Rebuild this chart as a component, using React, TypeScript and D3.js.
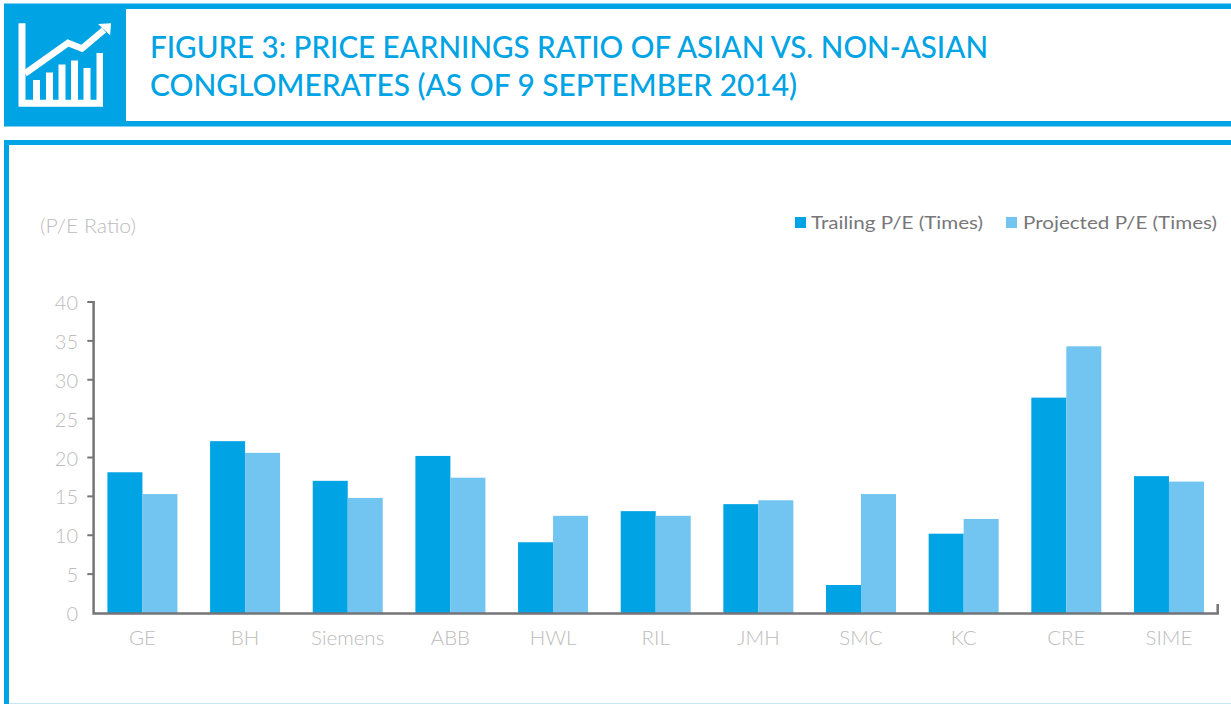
import React from "react";
import * as d3 from "d3";

const categories = ["GE", "BH", "Siemens", "ABB", "HWL", "RIL", "JMH", "SMC", "KC", "CRE", "SIME"];
const trailing = [18.1, 22.1, 17.0, 20.2, 9.1, 13.1, 14.0, 3.6, 10.2, 27.7, 17.6];
const projected = [15.3, 20.6, 14.8, 17.4, 12.5, 12.5, 14.5, 15.3, 12.1, 34.3, 16.9];
const yTicks = [0, 5, 10, 15, 20, 25, 30, 35, 40];

const BLUE = "#00a3e4";
const LIGHT = "#72c5f0";
const AXIS = "#757578";
const TICK = "#bcbcbc";
const FONT = "'Lato', 'Noto Sans', sans-serif";

const x = d3.scaleBand<string>().domain(categories).range([91.1, 1220.3]).paddingInner(0).paddingOuter(0);
const y = d3.scaleLinear().domain([0, 40]).range([613, 302]);
const barW = 35;

const iconLine = d3.line()([[25, 73.5], [68, 43], [82, 48.5], [104, 30]]) as string;

export default function App() {
  return (
    <svg width={1231} height={704} viewBox="0 0 1231 704"
      style={{ position: "absolute", left: 0, top: 0, background: "#fff", display: "block" }}>
      {/* header */}
      <rect x={4} y={3.5} width={1227} height={123} fill={BLUE} />
      <rect x={126} y={9} width={1105} height={112} fill="#fff" />
      <g fill="#fff">
        <path d="M18.5 23.3h7v76.4h71V53h6.5v53.7h-84.5z" />
        <rect x={33} y={80} width={7} height={20} />
        <rect x={46} y={72.5} width={7} height={27.5} />
        <rect x={58.5} y={64.5} width={7} height={35.5} />
        <rect x={71} y={60.5} width={7} height={39.5} />
        <rect x={83.5} y={68} width={7} height={32} />
        <path d="M98 24l13-.7-.8 12z" />
      </g>
      <path d={iconLine} fill="none" stroke="#fff" strokeWidth={6.5} />
      <g fill={BLUE} fontFamily={FONT} fontSize={30} fontWeight={500}>
        <text x={150} y={58} textLength={838} lengthAdjust="spacingAndGlyphs">FIGURE 3: PRICE EARNINGS RATIO OF ASIAN VS. NON-ASIAN</text>
        <text x={150} y={96} textLength={647} lengthAdjust="spacingAndGlyphs">CONGLOMERATES (AS OF 9 SEPTEMBER 2014)</text>
      </g>

      {/* panel */}
      <rect x={4} y={140} width={1227} height={5} fill={BLUE} />
      <rect x={4} y={140} width={5} height={564} fill={BLUE} />
      <rect x={9} y={703} width={1222} height={1} fill="#c5e6f6" />

      <text x={40} y={233} fontFamily={FONT} fontWeight={300} fontSize={20} fill={TICK} textLength={96} lengthAdjust="spacingAndGlyphs">(P/E Ratio)</text>

      {/* legend */}
      <rect x={795} y={217} width={11} height={11} fill={BLUE} />
      <text x={811} y={229} fontFamily={FONT} fontSize={18} fill="#77777a" textLength={172} lengthAdjust="spacingAndGlyphs">Trailing P/E (Times)</text>
      <rect x={1006} y={217} width={11} height={11} fill={LIGHT} />
      <text x={1023} y={229} fontFamily={FONT} fontSize={18} fill="#77777a" textLength={194} lengthAdjust="spacingAndGlyphs">Projected P/E (Times)</text>

      {/* bars */}
      {categories.map((c, i) => {
        const cx = (x(c) as number) + x.bandwidth() / 2;
        return (
          <g key={c}>
            <rect x={cx - barW} y={y(trailing[i])} width={barW} height={y(0) - y(trailing[i])} fill={BLUE} />
            <rect x={cx} y={y(projected[i])} width={barW} height={y(0) - y(projected[i])} fill={LIGHT} />
            <text x={cx} y={645} textAnchor="middle" fontFamily={FONT} fontWeight={300} fontSize={20.5} fill={TICK}>{c}</text>
          </g>
        );
      })}

      {/* axes */}
      <g stroke={AXIS} strokeWidth={2.5} fill="none">
        <path d={`M93.6 ${y(40) - 1}V${y(0) + 0.5}H1217.7V604`} />
        {yTicks.filter((t) => t > 0).map((t) => (
          <line key={t} x1={87.3} x2={93} y1={y(t)} y2={y(t)} strokeWidth={2} />
        ))}
      </g>
      {yTicks.map((t) => (
        <text key={t} x={78} y={y(t) + 8} textAnchor="end" fontFamily={FONT} fontWeight={300} fontSize={20} fill={TICK}>{t}</text>
      ))}
    </svg>
  );
}
